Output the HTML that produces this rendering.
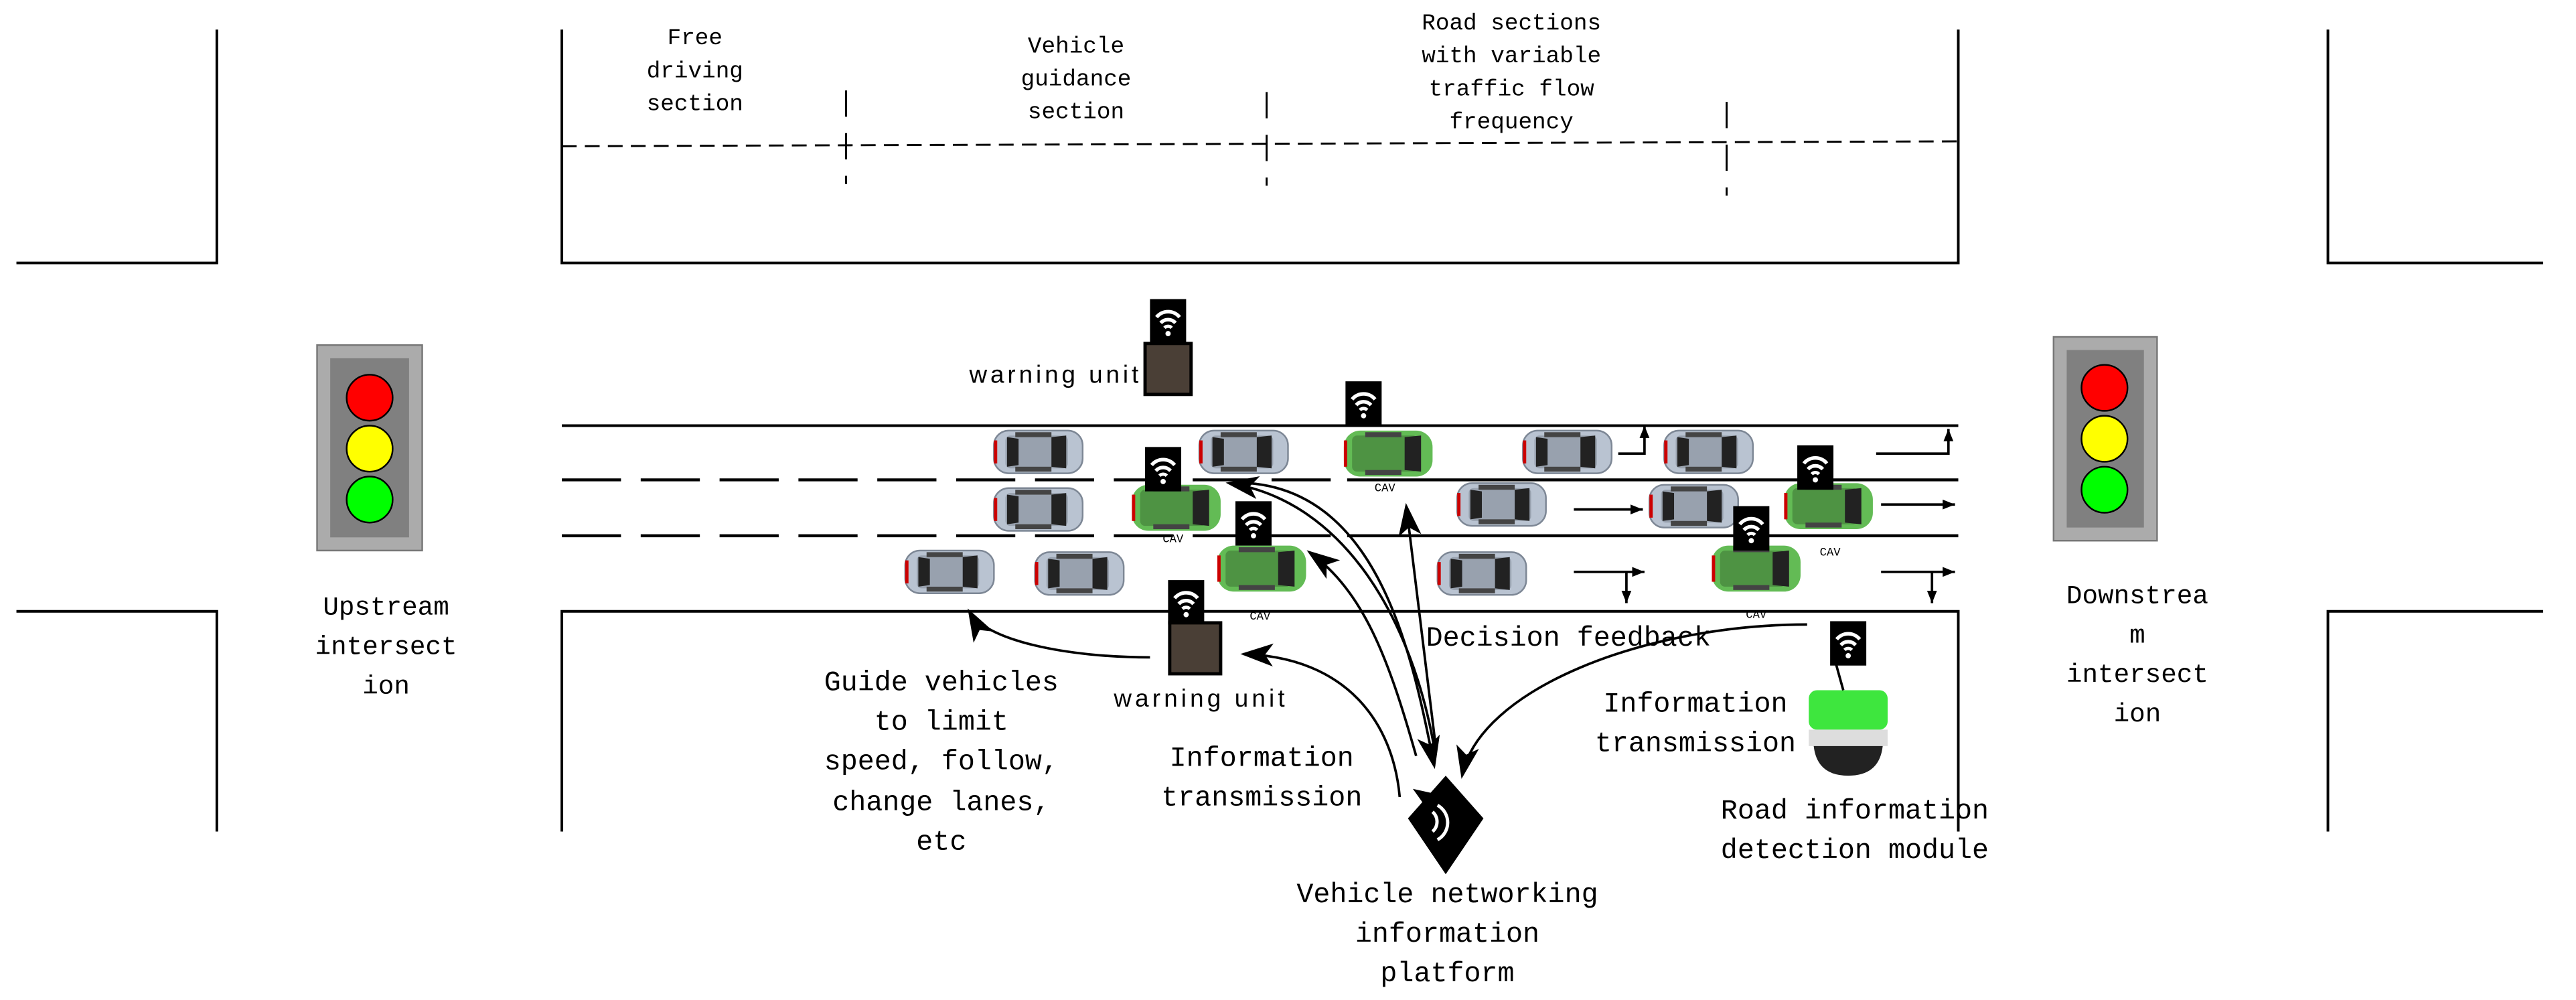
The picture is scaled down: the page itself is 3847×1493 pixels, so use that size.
<!DOCTYPE html>
<html><head><meta charset="utf-8"><style>
html,body{margin:0;padding:0;background:#fff}
svg{display:block}
text{font-family:"Liberation Mono","DejaVu Sans Mono",monospace;fill:#000}
</style></head><body>
<svg width="3847" height="1493" viewBox="0 0 1568 608.5" preserveAspectRatio="none" xmlns="http://www.w3.org/2000/svg">
<defs>
<g id="gcar">
<rect x="-27" y="-13" width="54" height="26" rx="9" fill="#b9c3d1" stroke="#7d8795" stroke-width="1"/>
<rect x="-20" y="-10" width="38" height="20" rx="3" fill="#98a1ae"/>
<path d="M-19,-9 L-12,-8 L-12,8 L-19,9 Z" fill="#222"/>
<path d="M8,-9 L17,-10 L17,10 L8,9 Z" fill="#222"/>
<rect x="-14" y="-12" width="22" height="3" fill="#444"/>
<rect x="-14" y="9" width="22" height="3" fill="#444"/>
<rect x="-27" y="-7" width="2" height="14" fill="#c00"/>
</g>
<g id="ccar">
<rect x="-27" y="-14" width="54" height="28" rx="10" fill="#63bb55"/>
<rect x="-22" y="-11" width="40" height="22" rx="3" fill="#4e9343"/>
<path d="M10,-10 L20,-11 L20,11 L10,10 Z" fill="#222"/>
<rect x="-14" y="-13" width="22" height="3" fill="#444"/>
<rect x="-14" y="10" width="22" height="3" fill="#444"/>
<rect x="-27" y="-8" width="2" height="16" fill="#c00"/>
</g>
<g id="wifi">
<rect x="-11" y="-13" width="22" height="27" fill="#000"/>
<path d="M-7,-2 A9,9 0 0 1 7,-2" stroke="#fff" stroke-width="2.2" fill="none"/>
<path d="M-4.5,1.5 A6,6 0 0 1 4.5,1.5" stroke="#fff" stroke-width="2.2" fill="none"/>
<path d="M-2.2,4.5 A3,3 0 0 1 2.2,4.5" stroke="#fff" stroke-width="2" fill="none"/>
<circle cx="0" cy="8" r="1.6" fill="#fff"/>
</g>
<marker id="ah" viewBox="0 0 20 14" refX="18" refY="7" markerWidth="20" markerHeight="14" markerUnits="userSpaceOnUse" orient="auto">
<path d="M0,0 L20,7 L0,14 L5,7 Z" fill="#000"/>
</marker>
<marker id="sa" viewBox="0 0 10 8" refX="10" refY="4" markerWidth="8" markerHeight="6" markerUnits="userSpaceOnUse" orient="auto">
<path d="M0,0 L10,4 L0,8 Z" fill="#000"/>
</marker>
</defs>

<g stroke="#000" stroke-width="1.6" fill="none">
<path d="M132,18 V160 H10"/>
<path d="M10,372 H132 V506"/>
<path d="M1417,18 V160 H1548"/>
<path d="M1548,372 H1417 V506"/>
<path d="M342,18 V160 H1192 V18"/>
<path d="M342,506 V372 H1192 V506"/>
<path d="M342,259 H1192"/>
</g>
<g stroke="#000" stroke-width="1.2" fill="none" stroke-dasharray="9,5">
<path d="M342,89 L1192,86"/>
</g>
<g stroke="#000" stroke-width="1.2" fill="none" stroke-dasharray="16,10">
<path d="M515,55 V112"/><path d="M771,56 V113"/><path d="M1051,62 V119"/>
</g>
<g stroke="#000" stroke-width="1.8" fill="none">
<path d="M342,292 H810" stroke-dasharray="36,12"/>
<path d="M820,292 H1192"/>
<path d="M342,326 H810" stroke-dasharray="36,12"/>
<path d="M820,326 H1192"/>
</g>

<text font-size="14" text-anchor="middle"><tspan x="423" y="27">Free</tspan><tspan x="423" y="47">driving</tspan><tspan x="423" y="67">section</tspan></text>
<text font-size="14" text-anchor="middle"><tspan x="655" y="32">Vehicle</tspan><tspan x="655" y="52">guidance</tspan><tspan x="655" y="72">section</tspan></text>
<text font-size="14" text-anchor="middle"><tspan x="920" y="18">Road sections</tspan><tspan x="920" y="38">with variable</tspan><tspan x="920" y="58">traffic flow</tspan><tspan x="920" y="78">frequency</tspan></text>

<rect x="193" y="210" width="64" height="125" fill="#ababab" stroke="#777"/>
<rect x="201" y="218" width="48" height="109" fill="#808080"/>
<circle cx="225" cy="242" r="14" fill="#f00" stroke="#000"/>
<circle cx="225" cy="273" r="14" fill="#ff0" stroke="#000"/>
<circle cx="225" cy="304" r="14" fill="#0f0" stroke="#000"/>
<rect x="1250" y="205" width="63" height="124" fill="#ababab" stroke="#777"/>
<rect x="1258" y="213" width="47" height="108" fill="#808080"/>
<circle cx="1281" cy="236" r="14" fill="#f00" stroke="#000"/>
<circle cx="1281" cy="267" r="14" fill="#ff0" stroke="#000"/>
<circle cx="1281" cy="298" r="14" fill="#0f0" stroke="#000"/>
<text font-size="16" text-anchor="middle"><tspan x="235" y="374">Upstream</tspan><tspan x="235" y="398">intersect</tspan><tspan x="235" y="422">ion</tspan></text>
<text font-size="16" text-anchor="middle"><tspan x="1301" y="367">Downstrea</tspan><tspan x="1301" y="391">m</tspan><tspan x="1301" y="415">intersect</tspan><tspan x="1301" y="439">ion</tspan></text>

<use href="#gcar" x="632" y="275"/><use href="#gcar" x="757" y="275"/><use href="#gcar" x="954" y="275"/><use href="#gcar" x="1040" y="275"/>
<use href="#ccar" x="845" y="276"/>
<use href="#gcar" x="632" y="310"/><use href="#ccar" x="716" y="309"/><use href="#gcar" x="914" y="307"/><use href="#gcar" x="1031" y="308"/><use href="#ccar" x="1113" y="308"/>
<use href="#gcar" x="578" y="348"/><use href="#gcar" x="657" y="349"/><use href="#ccar" x="768" y="346"/><use href="#gcar" x="902" y="349"/><use href="#ccar" x="1069" y="346"/>
<g font-size="7" text-anchor="middle"><text x="843" y="299">CAV</text><text x="714" y="330">CAV</text><text x="767" y="377">CAV</text><text x="1114" y="338">CAV</text><text x="1069" y="376">CAV</text></g>

<g stroke="#000" stroke-width="1.5" fill="none">
<path d="M985,276 H1001 V259" marker-end="url(#sa)"/>
<path d="M1142,276 H1186 V261" marker-end="url(#sa)"/>
<path d="M958,310 H1000" marker-end="url(#sa)"/>
<path d="M1145,307 H1190" marker-end="url(#sa)"/>
<path d="M958,348 H1001" marker-end="url(#sa)"/>
<path d="M990,348 V367" marker-end="url(#sa)"/>
<path d="M1145,348 H1190" marker-end="url(#sa)"/>
<path d="M1176,348 V367" marker-end="url(#sa)"/>
</g>

<use href="#wifi" x="711" y="195"/><use href="#wifi" x="830" y="245"/><use href="#wifi" x="708" y="285"/><use href="#wifi" x="763" y="318"/>
<use href="#wifi" x="1105" y="284"/><use href="#wifi" x="1066" y="321"/><use href="#wifi" x="722" y="366"/><use href="#wifi" x="1125" y="391"/>

<rect x="697" y="209" width="28" height="31" fill="#4a3f36" stroke="#000" stroke-width="2"/>
<rect x="712" y="379" width="31" height="31" fill="#4a3f36" stroke="#000" stroke-width="2"/>
<text font-size="15" x="693" y="233" text-anchor="end" style="font-family:'Liberation Sans',sans-serif" textLength="103">warning unit</text>
<text font-size="15" x="730" y="430" text-anchor="middle" style="font-family:'Liberation Sans',sans-serif" textLength="104">warning unit</text>

<rect x="1101" y="420" width="48" height="24" rx="5" fill="#3ee63e"/>
<rect x="1101" y="444" width="48" height="10" fill="#ddd"/>
<path d="M1104,454 H1146 Q1144,472 1125,472 Q1106,472 1104,454 Z" fill="#222"/>

<path d="M880,472 L903,498 L880,532 L857,498 Z" fill="#000"/>
<path d="M860,480 L878,484 L870,494 Z" fill="#000"/>
<path d="M872,494 A8,8 0 0 1 872,506" stroke="#fff" stroke-width="2" fill="none"/>
<path d="M875,490 A12,12 0 0 1 875,511" stroke="#fff" stroke-width="2" fill="none"/>

<g stroke="#000" stroke-width="1.5" fill="none">
<path d="M873,455 C860,380 820,305 748,294" marker-end="url(#ah)"/>
<path d="M760,294 C840,300 860,400 873,466" marker-end="url(#ah)"/>
<path d="M862,460 C845,400 830,360 797,336" marker-end="url(#ah)"/>
<path d="M874,455 L856,308" marker-end="url(#ah)"/>
<path d="M1100,380 C1000,380 900,420 890,472" marker-end="url(#ah)"/>
<path d="M852,485 C848,440 820,400 757,398" marker-end="url(#ah)"/>
<path d="M700,400 C650,400 600,390 590,372" marker-end="url(#ah)"/>
<path d="M1117,402 L1122,420"/>
<path d="M717,378 L712,370"/>
</g>

<text font-size="17" x="868" y="393">Decision feedback</text>
<text font-size="17" text-anchor="middle"><tspan x="768" y="466">Information</tspan><tspan x="768" y="490">transmission</tspan></text>
<text font-size="17" text-anchor="middle"><tspan x="1032" y="433">Information</tspan><tspan x="1032" y="457">transmission</tspan></text>
<text font-size="17" text-anchor="middle"><tspan x="573" y="420">Guide vehicles</tspan><tspan x="573" y="444">to limit</tspan><tspan x="573" y="468">speed, follow,</tspan><tspan x="573" y="493">change lanes,</tspan><tspan x="573" y="517">etc</tspan></text>
<text font-size="17" text-anchor="middle"><tspan x="1129" y="498">Road information</tspan><tspan x="1129" y="522">detection module</tspan></text>
<text font-size="17" text-anchor="middle"><tspan x="881" y="549">Vehicle networking</tspan><tspan x="881" y="573">information</tspan><tspan x="881" y="597">platform</tspan></text>
</svg>
</body></html>
